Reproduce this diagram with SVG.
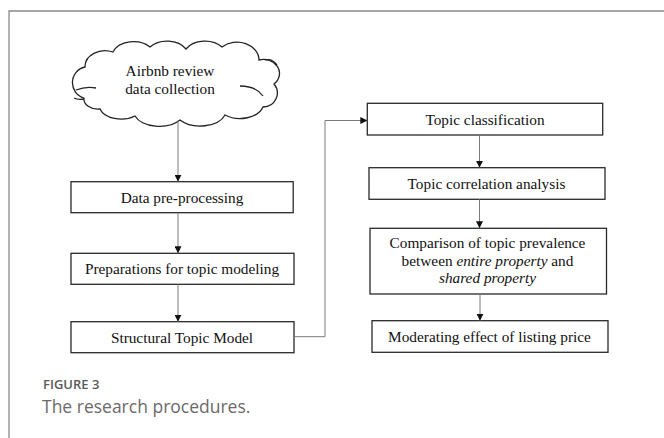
<svg xmlns="http://www.w3.org/2000/svg" width="664" height="438" viewBox="0 0 664 438">
<defs>
<style>
.box{fill:#fff;stroke:#2a2a2a;stroke-width:1.3}
.t{font-family:"Liberation Serif","Times New Roman",serif;font-size:15.3px;fill:#111;text-anchor:middle}
.conn{fill:none;stroke:#7a7a7a;stroke-width:1}
.frame{fill:none;stroke:#8a8a8a;stroke-width:1.3}
.cap1{font-family:"Open Sans","Noto Sans",sans-serif;font-size:13px;font-weight:600;fill:#5a5a5a}
.cap2{font-family:"Open Sans","Noto Sans",sans-serif;font-size:17.5px;fill:#6a6a6a}
</style>
<marker id="ah" viewBox="0 0 10 10" refX="10" refY="5" markerWidth="7" markerHeight="7" markerUnits="userSpaceOnUse" orient="auto">
<path d="M0,0 L10,5 L0,10 z" fill="#111"/>
</marker>
</defs>
<rect width="664" height="438" fill="#fff"/>
<path class="frame" d="M9,438 V11 H664"/>

<g id="cloud">
<path fill="#fff" stroke="#222" stroke-width="1.3" d="M84,98 A16,16 0 0 1 85,67 A20,16 0 0 1 113,52 A22,16 0 0 1 150,47 A22,16 0 0 1 186,49 A22,16 0 0 1 222,47 A22,18 0 0 1 259,60 A16,14 0 0 1 274,84 A14,14 0 0 1 263,107 A24,16 0 0 1 225,115 A26,16 0 0 1 180,120 A26,16 0 0 1 135,116 A22,14 0 0 1 100,109 A14,10 0 0 1 84,98 Z"/>
<path fill="none" stroke="#222" stroke-width="1.3" d="M76,90 Q86,86 96,88 M240,86 Q256,86 263,96 M265,60 Q272,58 277,65 M84,99 Q78,100 74,98"/>
<text class="t" x="170" y="76">Airbnb review</text>
<text class="t" x="170" y="93.5">data collection</text>
</g>

<g id="data-preprocessing">
<rect class="box" x="71" y="181.7" width="222.2" height="31"/>
<text class="t" x="182" y="202.5">Data pre-processing</text>
</g>
<g id="preparations">
<rect class="box" x="71" y="253.3" width="223" height="31"/>
<text class="t" x="182" y="274">Preparations for topic modeling</text>
</g>
<g id="stm">
<rect class="box" x="71" y="321.7" width="223" height="31"/>
<text class="t" x="182" y="342.7">Structural Topic Model</text>
</g>
<g id="topic-classification">
<rect class="box" x="367.3" y="103.3" width="235.4" height="31.7"/>
<text class="t" x="485" y="124.7">Topic classification</text>
</g>
<g id="topic-correlation">
<rect class="box" x="369" y="167.7" width="236" height="31.6"/>
<text class="t" x="486.5" y="189">Topic correlation analysis</text>
</g>
<g id="comparison">
<rect class="box" x="370" y="228.3" width="236.5" height="65.7"/>
<text class="t" x="487.5" y="248.3">Comparison of topic prevalence</text>
<text class="t" x="487.5" y="265.5">between <tspan font-style="italic">entire property</tspan> and</text>
<text class="t" x="487.5" y="282.5" font-style="italic">shared property</text>
</g>
<g id="moderating">
<rect class="box" x="372" y="320.7" width="236" height="31.6"/>
<text class="t" x="489.5" y="342">Moderating effect of listing price</text>
</g>

<g id="connectors">
<path class="conn" marker-end="url(#ah)" d="M178,120.5 V181.7"/>
<path class="conn" marker-end="url(#ah)" d="M178,212.7 V253.3"/>
<path class="conn" marker-end="url(#ah)" d="M178,284.3 V321.7"/>
<path class="conn" marker-end="url(#ah)" d="M294,336.7 H325 V120.5 H367.3"/>
<path class="conn" marker-end="url(#ah)" d="M479.5,135 V167.7"/>
<path class="conn" marker-end="url(#ah)" d="M479.5,199.3 V228.3"/>
<path class="conn" marker-end="url(#ah)" d="M480,294 V320.7"/>
</g>

<text class="cap1" x="43" y="389">FIGURE 3</text>
<text class="cap2" x="42" y="412.5">The research procedures.</text>
</svg>
